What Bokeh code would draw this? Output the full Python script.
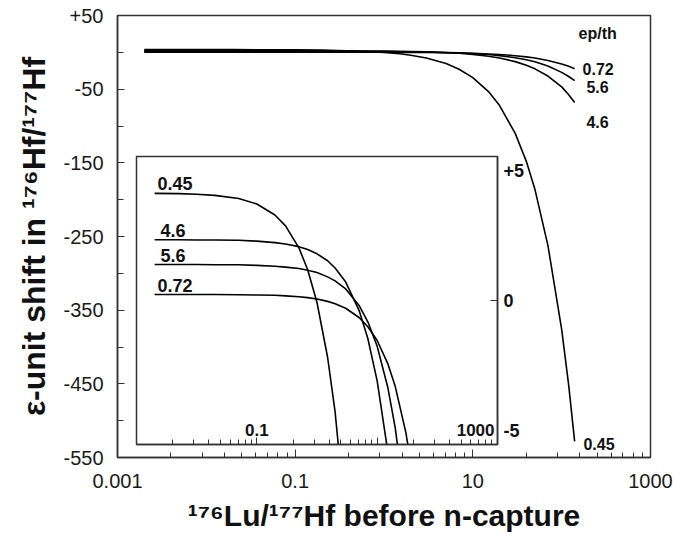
from bokeh.plotting import figure
from bokeh.models import (Range1d, FixedTicker, CustomJSTickFormatter, Label,
                          ColumnDataSource, LinearAxis)
from bokeh.embed import file_html
from bokeh.resources import INLINE
from bokeh.core.properties import value

FONT = "Liberation Sans"

# ---------------- data ----------------
lu_hf = [0.002, 0.005, 0.01, 0.02, 0.05, 0.1, 0.2, 0.3, 0.5, 0.7, 1, 1.5, 2, 3, 5,
         7, 10, 15, 20, 30, 40, 50, 70, 100, 120, 140]
eps_045 = [3.72, 3.71, 3.69, 3.65, 3.54, 3.35, 2.97, 2.59, 1.83, 1.07, -0.07, -1.97,
           -3.87, -7.67, -15.3, -22.9, -34.3, -53.3, -72.3, -110, -148, -186, -262,
           -376, -452, -528]
eps_46 = [2.11, 2.11, 2.10, 2.10, 2.09, 2.06, 2.01, 1.96, 1.87, 1.77, 1.62, 1.38, 1.13,
          0.64, -0.34, -1.32, -2.79, -5.24, -7.69, -12.6, -17.5, -22.4, -32.2, -46.9,
          -57.5, -68.0]
eps_56 = [1.25, 1.25, 1.25, 1.24, 1.24, 1.22, 1.19, 1.16, 1.11, 1.05, 0.97, 0.82, 0.68,
          0.40, -0.17, -0.74, -1.59, -3.01, -4.43, -7.27, -10.1, -12.9, -18.6, -27.2,
          -32.8, -38.5]
eps_072 = [0.21, 0.21, 0.21, 0.21, 0.20, 0.19, 0.18, 0.16, 0.13, 0.10, 0.05, -0.03,
           -0.11, -0.27, -0.59, -0.91, -1.39, -2.19, -2.99, -4.59, -6.19, -7.79, -11.0,
           -15.8, -19.0, -22.2]
series = [eps_045, eps_46, eps_56, eps_072]
series_names = ["0.45", "4.6", "5.6", "0.72"]

main_x_labels = [0.001, 0.1, 10, 1000]
main_y_labels = [50, -50, -150, -250, -350, -450, -550]
main_y_minor = [0, -100, -200, -300, -400, -500]
inset_y_values = [5, 0, -5]
inset_x_labels = ["0.1", "1000"]
inset_x_values = [0.1, 1000]

# minor ticks of the log axis sit at k^2 times each labelled power (k = 2..9)
x_minor = [m * k * k for m in main_x_labels[:-1] for k in range(2, 10)]

fmt_x = CustomJSTickFormatter(code="""
  if (tick >= 1) return tick.toFixed(0);
  return String(parseFloat(tick.toPrecision(3)));
""")
fmt_y = CustomJSTickFormatter(code="""
  const v = Math.round(tick);
  return (v > 0 ? "+" : "") + String(v);
""")

# ---------------- main figure ----------------
p = figure(frame_width=533, frame_height=442, x_axis_type="log",
           x_range=Range1d(1e-3, 1e3), y_range=Range1d(-550, 50),
           output_backend="svg", toolbar_location=None,
           min_border_left=117, min_border_right=23, min_border_top=15,
           min_border_bottom=92, name="mainplot")
p.grid.visible = False
p.outline_line_color = "#333333"
p.outline_line_width = 1.5

for ax in (p.xaxis[0], p.yaxis[0]):
    ax.axis_line_color = "#333333"
    ax.axis_line_width = 1.5
    ax.major_tick_line_color = "#333333"
    ax.minor_tick_line_color = "#333333"
    ax.major_tick_out = 0
    ax.minor_tick_out = 0
    ax.major_label_text_font = FONT
    ax.major_label_text_font_size = "20px"
    ax.major_label_text_color = "#1a1a1a"
    ax.axis_label_text_font = FONT
    ax.axis_label_text_font_style = "bold"
    ax.axis_label_text_color = "#111111"

p.xaxis.ticker = FixedTicker(ticks=main_x_labels, minor_ticks=x_minor)
p.xaxis.formatter = fmt_x
p.xaxis.major_tick_in = 8
p.xaxis.minor_tick_in = 5
p.xaxis.major_label_standoff = 16
p.xaxis.axis_label = "\u00b9\u2077\u2076Lu/\u00b9\u2077\u2077Hf before n-capture"
p.xaxis.axis_label_text_font_size = "30px"
p.xaxis.axis_label_standoff = 8

p.yaxis.ticker = FixedTicker(ticks=main_y_labels, minor_ticks=main_y_minor)
p.yaxis.formatter = fmt_y
p.yaxis.major_tick_in = 7
p.yaxis.minor_tick_in = 6
p.yaxis.major_label_standoff = 14
p.yaxis.axis_label = "\u03b5-unit shift in \u00b9\u2077\u2076Hf/\u00b9\u2077\u2077Hf"
p.yaxis.axis_label_text_font_size = "32px"
p.yaxis.axis_label_standoff = 8

for ys in series:
    p.line(lu_hf, ys, line_color="black", line_width=1.6)

main_lbl = ColumnDataSource(dict(
    x=[155, 172, 190, 190, 176],
    y=[25.6, -23.3, -46.4, -95.2, -531],
    t=["ep/th", "0.72", "5.6", "4.6", "0.45"]))
p.text(x="x", y="y", text="t", source=main_lbl, text_font=value(FONT),
       text_font_style="bold", text_font_size="16px", text_baseline="middle",
       text_align="left", text_color="#111111")

# ---------------- inset figure ----------------
bl, bt, br, bb = 2, 2, 36, 2
ins = figure(frame_width=361, frame_height=288, x_axis_type="log",
             x_range=Range1d(1e-3, 1e3), y_range=Range1d(-5, 5),
             output_backend="svg", toolbar_location=None,
             y_axis_location=None,
             min_border_left=bl, min_border_right=br, min_border_top=bt,
             min_border_bottom=bb, name="inset")
ins.grid.visible = False
ins.border_fill_alpha = 0
ins.background_fill_color = "white"
ins.outline_line_color = "#333333"
ins.outline_line_width = 1.5

# right axis: its labels sit a little inside the ends of the inset scale
ins.extra_y_ranges = {"lab": Range1d(-5.55, 5.55)}
yr = LinearAxis(y_range_name="lab")
ins.add_layout(yr, "right")
yr.ticker = FixedTicker(ticks=inset_y_values, minor_ticks=[0])
yr.formatter = fmt_y
yr.major_tick_in = 0
yr.major_tick_out = 0
yr.minor_tick_in = 7
yr.minor_tick_out = 0
yr.major_label_standoff = 6
yr.major_label_text_font = FONT
yr.major_label_text_font_style = "bold"
yr.major_label_text_font_size = "18px"
yr.major_label_text_color = "#111111"

xa = ins.xaxis[0]
xa.major_label_text_font_size = "2px"
xa.major_label_text_alpha = 0
xa.major_label_standoff = 0
xa.ticker = FixedTicker(ticks=main_x_labels, minor_ticks=x_minor)
xa.major_tick_in = 7
xa.minor_tick_in = 5
for ax in (xa, yr):
    ax.axis_line_color = "#333333"
    ax.axis_line_width = 1.5
    ax.major_tick_line_color = "#333333"
    ax.minor_tick_line_color = "#333333"
    ax.major_tick_out = 0
    ax.minor_tick_out = 0

for ys in series:
    ins.line(lu_hf, ys, line_color="black", line_width=1.6)

ins_lbl = ColumnDataSource(dict(
    x=[0.00224, 0.0025, 0.0025, 0.00224],
    y=[4.06, 2.43, 1.56, 0.52],
    t=series_names))
ins.text(x="x", y="y", text="t", source=ins_lbl, text_font=value(FONT),
         text_font_style="bold", text_font_size="18px", text_baseline="middle",
         text_align="left", text_color="#111111")

for t, xv in zip(inset_x_labels, inset_x_values):
    align = "right" if xv >= 1000 else "center"
    ins.add_layout(Label(x=xv, y=-5, text=t, x_offset=-3 if xv >= 1000 else 0,
                         y_offset=9, text_baseline="bottom", text_align=align,
                         text_font=FONT, text_font_style="bold",
                         text_font_size="17px", text_color="#111111"))

TEMPLATE = """
{% block contents %}
<div style="position: relative; width: 673px; height: 549px;">
  <div style="position: absolute; left: 0px; top: 0px;">{{ embed(roots.mainplot) }}</div>
  <div style="position: absolute; left: 134px; top: 154px;">{{ embed(roots.inset) }}</div>
</div>
{% endblock %}
"""

open("out.html", "w").write(file_html([p, ins], INLINE, template=TEMPLATE))
